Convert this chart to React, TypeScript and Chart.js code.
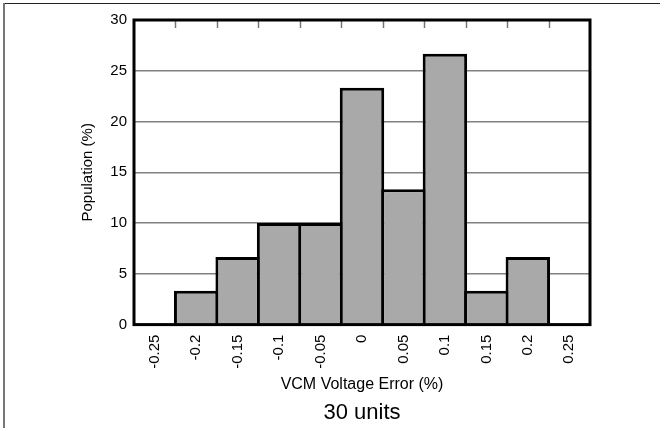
import React, { useEffect, useRef } from "react";
import { Chart, registerables } from "chart.js";

Chart.register(...registerables);

const categories = ["-0.25", "-0.2", "-0.15", "-0.1", "-0.05", "0", "0.05", "0.1", "0.15", "0.2", "0.25"];
const population = [0, 3.33, 6.67, 10, 10, 23.33, 13.33, 26.67, 3.33, 6.67, 0];
const yMin = 0;
const yMax = 30;
const yStep = 5;
const xTitle = "VCM Voltage Error (%)";
const yTitle = "Population (%)";
const chartTitle = "30 units";

const FONT = "'Liberation Sans', Arial, sans-serif";

const framePlugin = {
  id: "frame",
  afterDatasetsDraw(chart: any) {
    const { ctx, chartArea: a, scales } = chart;
    const x = scales.x;
    ctx.save();
    ctx.strokeStyle = "#777";
    ctx.lineWidth = 1.5;
    for (let i = 1; i < categories.length; i++) {
      const px = Math.round(x.getPixelForValue(i - 0.5)) + 0.5;
      ctx.beginPath();
      ctx.moveTo(px, a.top);
      ctx.lineTo(px, a.top + 8);
      ctx.stroke();
    }
    ctx.strokeStyle = "#000";
    ctx.lineWidth = 3;
    ctx.strokeRect(a.left, a.top, a.right - a.left, a.bottom - a.top);
    ctx.restore();
  },
};

export default function App() {
  const ref = useRef<HTMLCanvasElement | null>(null);
  useEffect(() => {
    if (!ref.current) return;
    const chart = new Chart(ref.current, {
      type: "bar",
      data: {
        labels: categories,
        datasets: [
          {
            data: population,
            backgroundColor: "#a9a9a9",
            borderColor: "#000",
            borderWidth: 3,
            borderSkipped: "start",
            inflateAmount: 0,
            categoryPercentage: 1,
            barPercentage: 1.072,
          } as any,
        ],
      },
      options: {
        responsive: false,
        animation: false,
        layout: { padding: { left: 75, right: 70, top: 20, bottom: 0 } },
        plugins: {
          legend: { display: false },
          tooltip: { enabled: false },
          title: {
            display: true,
            text: chartTitle,
            position: "bottom",
            fullSize: false,
            color: "#000",
            font: { family: FONT, size: 22, weight: "normal" },
            padding: { top: 0, bottom: 2 },
          },
        },
        scales: {
          x: {
            type: "category",
            offset: true,
            grid: { display: false, drawTicks: false },
            border: { display: false },
            ticks: {
              autoSkip: false,
              minRotation: 90,
              maxRotation: 90,
              padding: 10,
              color: "#000",
              font: { family: FONT, size: 15 },
            },
            title: {
              display: true,
              text: xTitle,
              color: "#000",
              font: { family: FONT, size: 16 },
              padding: { top: 4, bottom: 5 },
            },
            afterFit(scale: any) {
              scale.height = 75;
            },
          },
          y: {
            min: yMin,
            max: yMax,
            grid: { color: "#808080", lineWidth: 1.5, drawTicks: false },
            border: { display: false },
            ticks: {
              stepSize: yStep,
              padding: 7,
              color: "#000",
              font: { family: FONT, size: 15 },
            },
            title: {
              display: true,
              text: yTitle,
              color: "#000",
              font: { family: FONT, size: 15 },
              padding: { top: 4, bottom: 4 },
            },
            afterFit(scale: any) {
              scale.width = 59;
            },
          },
        },
      },
      plugins: [framePlugin],
    });
    return () => chart.destroy();
  }, []);

  return (
    <div style={{ position: "fixed", left: 0, top: 0, width: 660, height: 428, background: "#fff" }}>
      <div style={{ position: "absolute", left: 3, top: 3, width: 657, height: 0, borderTop: "1px solid #222" }} />
      <div style={{ position: "absolute", left: 3, top: 3, width: 0, height: 425, borderLeft: "2px solid #777" }} />
      <canvas ref={ref} width={660} height={428} style={{ position: "absolute", left: 0, top: 0 }} />
    </div>
  );
}
